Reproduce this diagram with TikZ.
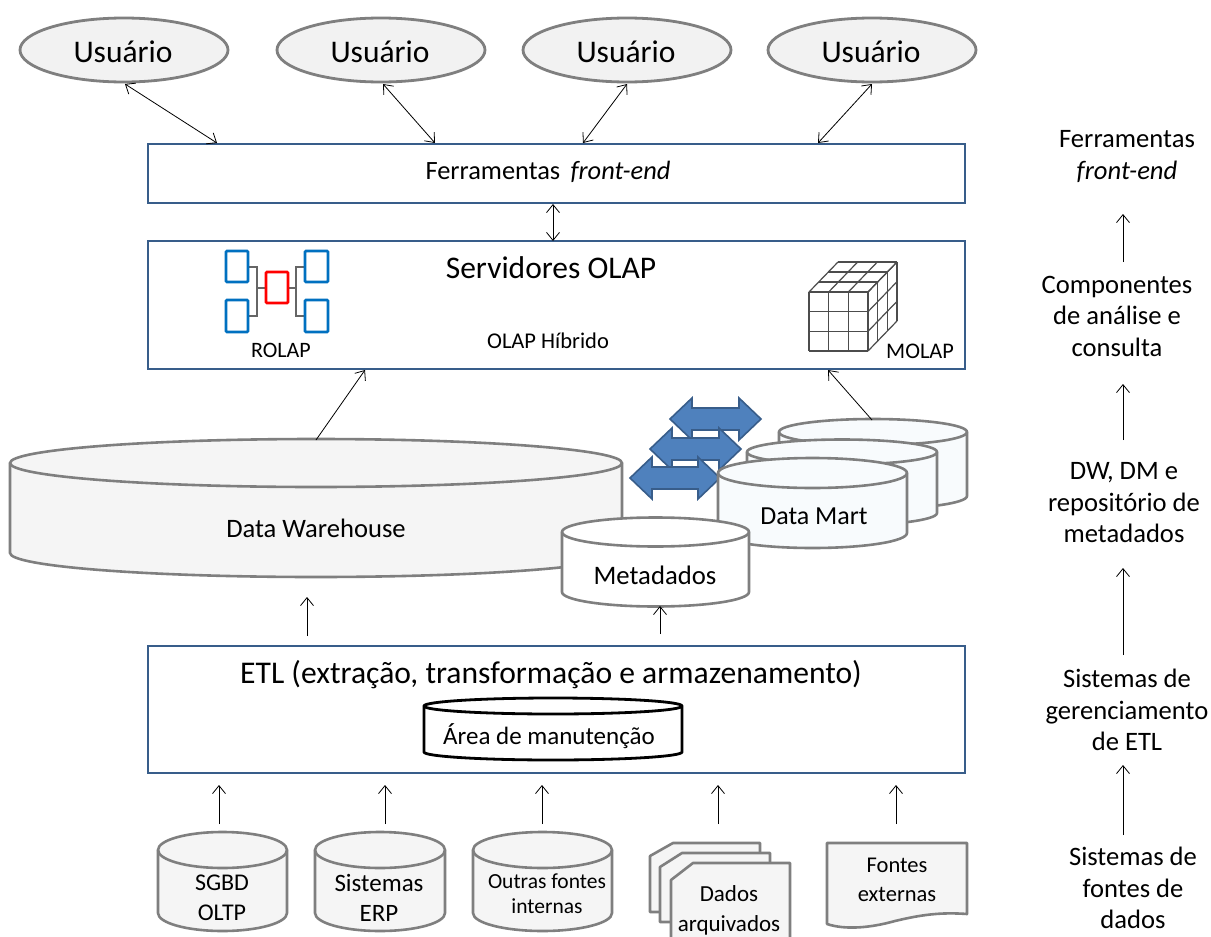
\documentclass[tikz,border=0pt]{standalone}
\usepackage{fontspec}
\setmainfont{Carlito}
\usetikzlibrary{arrows.meta,shapes.geometric}
\definecolor{boxblue}{HTML}{385D8A}
\definecolor{shapegray}{HTML}{7F7F7F}
\definecolor{lightfill}{HTML}{F5F5F5}
\definecolor{martfill}{HTML}{F8FBFD}
\definecolor{iconblue}{HTML}{0070C0}
\definecolor{arrowblue}{HTML}{4F81BD}
\newcommand{\fsz}[2]{\fontsize{#1}{#2}\selectfont}
% x1 x2 ycentre-top yside-bottom ry style
\newcommand{\cylshape}[6]{%
  \draw[#6] (#1,#3) -- (#1,#4) arc[start angle=180,end angle=0,x radius={(#2-#1)/2},y radius=#5] -- (#2,#3)
     arc[start angle=0,end angle=-180,x radius={(#2-#1)/2},y radius=#5] -- cycle;
  \draw[#6,fill=none] (#1,#3) arc[start angle=180,end angle=0,x radius={(#2-#1)/2},y radius=#5];
}
% x1 x2 ycentre
\newcommand{\bluearrow}[3]{%
  \draw[blockarrow] (#1,#3) -- ({#1+22},{#3-21}) -- ({#1+22},{#3-11}) -- ({#2-22},{#3-11}) -- ({#2-22},{#3-21}) -- (#2,#3)
    -- ({#2-22},{#3+21}) -- ({#2-22},{#3+11}) -- ({#1+22},{#3+11}) -- ({#1+22},{#3+21}) -- cycle;
}
\tikzset{
  userell/.style={draw=shapegray,fill=black!5,line width=2.8pt,ellipse,minimum width=208pt,minimum height=64pt,inner sep=0pt,outer sep=0pt},
  usertxt/.style={inner sep=0pt,font=\fsz{31.5}{32}},
  layerbox/.style={draw=boxblue,fill=white,line width=1.8pt,rectangle,anchor=north west,inner sep=0pt,outer sep=0pt},
  dbl/.style={{Straight Barb[length=8pt,width=13pt]}-{Straight Barb[length=8pt,width=13pt]},line width=0.8pt,black},
  sgl/.style={-{Straight Barb[length=8pt,width=13pt]},line width=0.8pt,black},
  cylgray/.style={draw=shapegray,line width=2.6pt,fill=lightfill},
  cylwhite/.style={draw=shapegray,line width=2.6pt,fill=white},
  cylmart/.style={draw=shapegray,line width=2.6pt,fill=martfill},
  cylblack/.style={draw=black,line width=2.8pt,fill=white},
  blockarrow/.style={draw=boxblue,fill=arrowblue,line width=1.6pt,line join=miter},
  iconb/.style={draw=iconblue,line width=2.8pt,rounded corners=1pt,fill=white},
  iconr/.style={draw=red,line width=2.8pt,rounded corners=1pt,fill=white},
  iconl/.style={draw=black!60,line width=1.2pt},
  cubel/.style={draw=black!70,line width=1.2pt},
  docshape/.style={draw=shapegray,line width=2.6pt,fill=lightfill,line join=round},
  lbl/.style={inner sep=0pt,align=center},
  side/.style={inner sep=0pt,align=center,font=\fsz{26.6}{31.5}},
}
\begin{document}
\begin{tikzpicture}[x=1pt,y=-1pt]
\clip (0,0) rectangle (1211,937);
\fill[white] (0,0) rectangle (1211,937);
% users
\node[userell] (u1) at (124,50) {};
\node[userell] (u2) at (381,50) {};
\node[userell] (u3) at (627,50) {};
\node[userell] (u4) at (872,50) {};
\node[usertxt] (t1) at (123,52) {Usuário};
\node[usertxt] (t2) at (380,52) {Usuário};
\node[usertxt] (t3) at (626,52) {Usuário};
\node[usertxt] (t4) at (871,52) {Usuário};
% layer boxes
\node[layerbox,minimum width=817pt,minimum height=59pt] (fe) at (148,144) {};
\node[layerbox,minimum width=817pt,minimum height=128pt] (ol) at (148,241) {};
\node[layerbox,minimum width=817pt,minimum height=127pt] (et) at (148,646) {};
\node[lbl,font=\fsz{26.4}{30}] (fetxt) at (548,172) {Ferramentas\, \textit{front-end}};
\node[lbl,font=\fsz{31.5}{32}] (oltxt) at (551,268) {Servidores OLAP};
\node[lbl,font=\fsz{22.5}{24}] (hib) at (548,341) {OLAP Híbrido};
\node[lbl,font=\fsz{22}{24}] (rol) at (281,350) {ROLAP};
\node[lbl,font=\fsz{22.3}{24}] (mol) at (920,351) {MOLAP};
\node[lbl,font=\fsz{31.6}{32}] (ettxt) at (551,675) {ETL (extração, transformação e armazenamento)};
% ROLAP icon
\draw[iconl] (249,267) -- (257,267) -- (257,316) -- (249,316);
\draw[iconl] (305,267) -- (296,267) -- (296,316) -- (305,316);
\draw[iconl] (257,288) -- (266,288) (288,288) -- (296,288);
\draw[iconb] (226,251) rectangle (248,282);
\draw[iconb] (226,300) rectangle (248,332);
\draw[iconb] (305,251) rectangle (328,282);
\draw[iconb] (305,300) rectangle (328,332);
\draw[iconr] (266,272) rectangle (288,303);
% MOLAP cube
\foreach \i in {0,1,2,3}{
  \pgfmathsetmacro{\gx}{809+\i*19.67}
  \pgfmathsetmacro{\gy}{292+\i*19.67}
  \pgfmathsetmacro{\ox}{\i*9.67}
  \pgfmathsetmacro{\oy}{\i*10}
  \draw[cubel] (\gx,292) -- (\gx,351);
  \draw[cubel] (809,\gy) -- (868,\gy);
  \draw[cubel] (\gx,292) -- ({\gx+29},262);
  \draw[cubel] ({809+\ox},{292-\oy}) -- ({868+\ox},{292-\oy});
  \draw[cubel] ({868+\ox},{292-\oy}) -- ({868+\ox},{351-\oy});
  \draw[cubel] (868,\gy) -- (897,{\gy-30});
}
% data warehouse and marts
\cylshape{779}{967}{432}{496}{13}{cylmart}
\cylshape{747}{937}{452}{513}{12.5}{cylmart}
\cylshape{10}{622}{463}{553}{24}{cylgray}
\bluearrow{670}{761}{419}
\bluearrow{650}{741}{449}
\bluearrow{630}{720}{478}
\cylshape{718}{907}{473}{533}{15}{cylmart}
\cylshape{562}{749}{532}{592}{14.5}{cylwhite}
\node[lbl,font=\fsz{26.6}{30}] (dw) at (316,528) {Data Warehouse};
\node[lbl,font=\fsz{26}{30}] (dm) at (814,516) {Data Mart};
\node[lbl,font=\fsz{26.7}{30}] (md) at (655,575) {Metadados};
% maintenance area
\cylshape{424}{682}{706}{752}{8}{cylblack}
\node[lbl,font=\fsz{25}{28}] (am) at (549,736) {Área de manutenção};
% source cylinders
\cylshape{158}{287}{850}{913}{18}{cylgray}
\cylshape{315}{445}{850}{913}{18}{cylgray}
\cylshape{473}{612}{850}{913}{18}{cylgray}
\node[lbl,font=\fsz{24}{30}] (s1) at (222,898) {SGBD\\OLTP};
\node[lbl,font=\fsz{25}{30}] (s2) at (379,898) {Sistemas\\ERP};
\node[lbl,font=\fsz{21.5}{25}] (s3) at (547,894) {Outras fontes\\internas};
% stacked documents
\draw[docshape] (650,856) -- (673,843) -- (760,843) -- (760,912) -- (650,912) -- cycle;
\draw[docshape] (660,867) -- (682,853) -- (770,853) -- (770,922) -- (660,922) -- cycle;
\draw[docshape] (671,880) -- (693,863) -- (790,863) -- (790,945) -- (671,945) -- cycle;
\node[lbl,font=\fsz{23}{30}] (s4) at (729,910) {Dados\\arquivados};
% external sources
\draw[docshape] (827,843) -- (967,843) -- (967,914) .. controls (940,912) and (920,915) .. (895,921) .. controls (870,928) and (845,930) .. (827,924) -- cycle;
\node[lbl,font=\fsz{22.5}{29}] (s5) at (897,880) {Fontes\\externas};
% right column
\node[side] (r1) at (1127,156.5) {Ferramentas\\\textit{front-end}};
\node[side] (r2) at (1117,316) {Componentes\\de análise e\\consulta};
\node[side] (r3) at (1124,503) {DW, DM e\\repositório de\\metadados};
\node[side] (r4) at (1127,710) {Sistemas de\\gerenciamento\\de ETL};
\node[side] (r5) at (1133,888) {Sistemas de\\fontes de\\dados};
% connector ends
\coordinate (a1) at (125,84); \coordinate (b1) at (217,143);
\coordinate (a2) at (383,84); \coordinate (b2) at (435,143);
\coordinate (a3) at (627,84); \coordinate (b3) at (583,143);
\coordinate (a4) at (872,84); \coordinate (b4) at (818,143);
\coordinate (c1) at (553,204); \coordinate (c2) at (553,241);
\coordinate (d1) at (316,440); \coordinate (d2) at (365,370);
\coordinate (e1) at (872,420); \coordinate (e2) at (828,370);
\coordinate (f1) at (307,636); \coordinate (f2) at (307,597);
\coordinate (g1) at (660,634); \coordinate (g2) at (660,606);
\draw[dbl] (a1) -- (b1);
\draw[dbl] (a2) -- (b2);
\draw[dbl] (a3) -- (b3);
\draw[dbl] (a4) -- (b4);
\draw[dbl] (c1) -- (c2);
\draw[sgl] (d1) -- (d2);
\draw[sgl] (e1) -- (e2);
\draw[sgl] (f1) -- (f2);
\draw[sgl] (g1) -- (g2);
\foreach \nm/\xx in {h1/219,h2/385,h3/542,h4/718,h5/896}{
  \coordinate (\nm a) at (\xx,824); \coordinate (\nm b) at (\xx,785);
  \draw[sgl] (\nm a) -- (\nm b);
}
\coordinate (k1a) at (1123,262); \coordinate (k1b) at (1123,214);
\coordinate (k2a) at (1123,440); \coordinate (k2b) at (1123,384);
\coordinate (k3a) at (1123,655); \coordinate (k3b) at (1123,568);
\coordinate (k4a) at (1123,835); \coordinate (k4b) at (1123,765);
\draw[sgl] (k1a) -- (k1b);
\draw[sgl] (k2a) -- (k2b);
\draw[sgl] (k3a) -- (k3b);
\draw[sgl] (k4a) -- (k4b);
\end{tikzpicture}
\end{document}
